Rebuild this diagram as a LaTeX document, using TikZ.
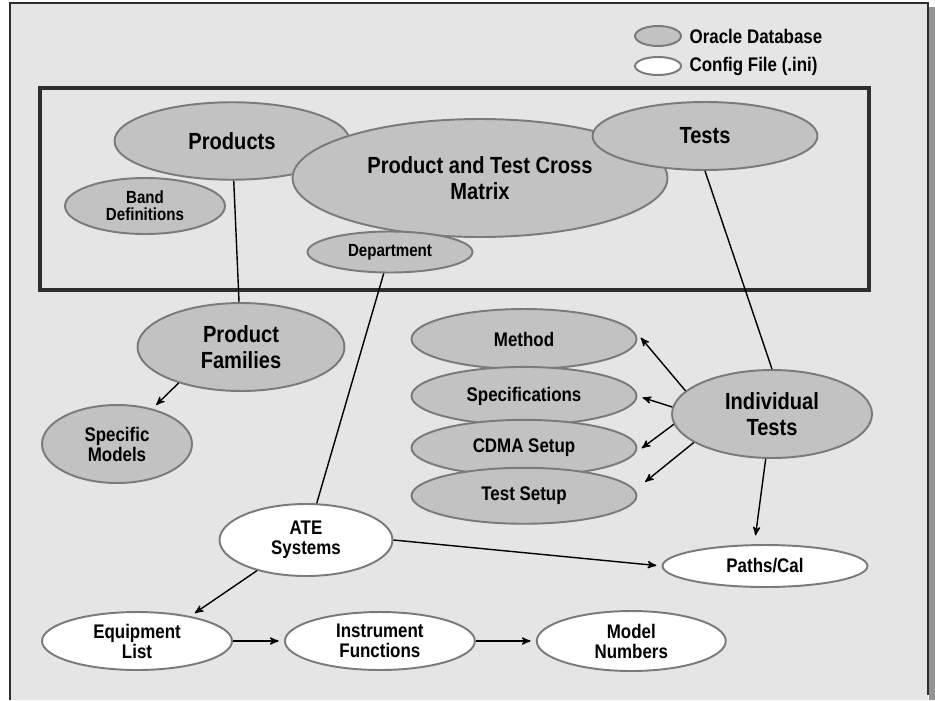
\documentclass[tikz,border=0pt]{standalone}
\usepackage{fontspec}
\setmainfont{Liberation Sans}[FakeStretch=0.86]
\usetikzlibrary{positioning,arrows,shapes.geometric}
\definecolor{panel}{HTML}{E5E5E5}
\definecolor{dbgray}{HTML}{C2C2C2}
\definecolor{rimgray}{HTML}{7A7A7A}
\definecolor{boxline}{HTML}{2E2E2E}

\begin{document}
\begin{tikzpicture}[x=0.02cm,y=-0.02cm,>=stealth',shorten >=3pt,thick,
  oval/.style={ellipse,draw=rimgray,line width=1.1pt,inner sep=0pt,align=center},
  db node/.style={oval,fill=dbgray},
  ini node/.style={oval,fill=white},
  big/.style={font=\bfseries\fontsize{13.3}{14.8}\selectfont},
  mid/.style={font=\bfseries\fontsize{11.2}{11.4}\selectfont},
  small/.style={font=\bfseries\fontsize{10}{9.6}\selectfont}]
\useasboundingbox (0,0) rectangle (935,700);
% panel
  \fill[black!42] (929,7) rectangle (935,700);
  \fill[panel] (10,3) rectangle (928,700);
  \draw[boxline,line width=0.7pt] (10,700) -- (10,3) -- (928,3) -- (928,700);
  \draw[boxline,line width=1.8pt] (40,88) rectangle (869,290);
% legend
  \node[db node,minimum width=0.92cm,minimum height=0.4cm] (legdb) at (658,36) {};
  \node[mid,inner sep=0pt,anchor=west] (legdbtxt) [right=0.14cm of legdb] {Oracle Database};
  \node[ini node,minimum width=0.92cm,minimum height=0.36cm] (legini) at (658,66) {};
  \node[mid,inner sep=0pt,anchor=west] (leginitxt) [right=0.14cm of legini] {Config File (.ini)};
% nodes
  \node[db node,big,minimum width=4.7cm,minimum height=1.55cm] (prod) at (232,141) {Products};
  \node[db node,big,minimum width=7.5cm,minimum height=2.36cm] (matrix) at (480,178) {Product and Test Cross\\Matrix};
  \node[db node,big,minimum width=4.5cm,minimum height=1.36cm] (tests) at (705,136) {Tests};
  \node[db node,small,minimum width=3.2cm,minimum height=1.12cm] (band) at (145,206) {Band\\Definitions};
  \node[db node,small,minimum width=3.3cm,minimum height=0.82cm] (dept) at (390,252) {Department};
  \node[db node,big,minimum width=4.14cm,minimum height=1.76cm] (fam) at (241,347) {Product\\Families};
  \node[db node,mid,minimum width=3cm,minimum height=1.56cm] (spec) at (117,444) {Specific\\Models};
  \node[db node,mid,minimum width=4.5cm,minimum height=1.2cm] (method) at (524,339) {Method};
  \node[db node,mid,minimum width=4.5cm,minimum height=1.16cm] (specs) [below=-0.08cm of method] {Specifications};
  \node[db node,mid,minimum width=4.5cm,minimum height=1.12cm] (cdma) [below=-0.14cm of specs] {CDMA Setup};
  \node[db node,mid,minimum width=4.5cm,minimum height=1.12cm] (tsetup) [below=-0.2cm of cdma] {Test Setup};
  \node[db node,big,minimum width=4cm,minimum height=1.76cm] (indiv) at (772,414) {Individual\\Tests};
  \node[ini node,mid,minimum width=3.46cm,minimum height=1.44cm] (ate) at (306,540) {ATE\\Systems};
  \node[ini node,mid,minimum width=4.1cm,minimum height=0.84cm] (paths) at (765,566) {Paths/Cal};
  \node[ini node,mid,minimum width=3.8cm,minimum height=1.16cm] (equip) at (137,641) {Equipment\\List};
  \node[ini node,mid,minimum width=3.8cm,minimum height=1.16cm] (instr) [right=1.02cm of equip] {Instrument\\Functions};
  \node[ini node,mid,minimum width=3.78cm,minimum height=1.2cm] (model) [right=1.2cm of instr] {Model\\Numbers};
%edges
  \path[shorten >=0pt]
    (prod) edge (fam)
    (dept) edge (ate)
    (tests.south) edge (indiv.north);
  \path[->]
    (fam.-150) edge (spec.45)
    (indiv.165) edge ([yshift=3pt]method.east)
    (indiv.176) edge (specs.east)
    (indiv.186) edge ([yshift=-2pt]cdma.east)
    (indiv.200) edge ([xshift=2pt,yshift=6pt]tsetup.east)
    (indiv.-98) edge[shorten >=5pt] (paths.116)
    (ate.east) edge (paths.west)
    (ate.-148) edge (equip.25)
    (equip) edge (instr)
    (instr) edge (model);
\end{tikzpicture}
\end{document}
